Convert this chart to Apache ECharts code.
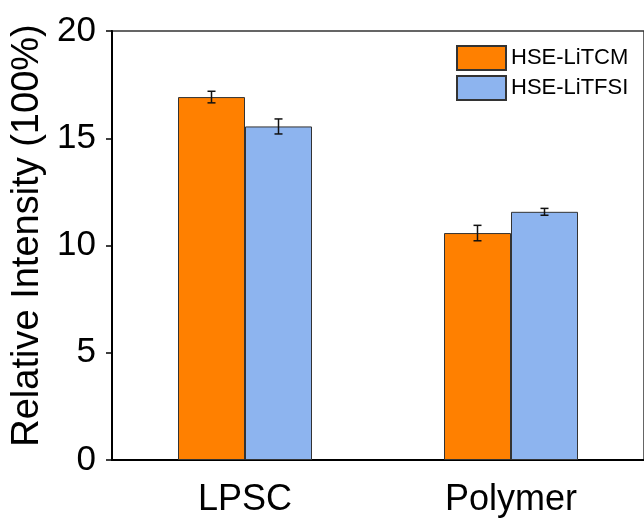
<!DOCTYPE html>
<html>
<head>
<meta charset="utf-8">
<title>Relative Intensity</title>
<script src="https://cdn.jsdelivr.net/npm/echarts@6/dist/echarts.min.js"></script>
<style>
body{margin:0;padding:0;background:#fff;}
#main{width:644px;height:520px;}
</style>
</head>
<body>
<div id="main"></div>
<script>
var categories = ['LPSC', 'Polymer'];
var seriesNames = ['HSE-LiTCM', 'HSE-LiTFSI'];
var litcm = [16.92, 10.58];
var litcmErr = [0.27, 0.36];
var litfsi = [15.55, 11.57];
var litfsiErr = [0.35, 0.16];
var yTicks = [0, 5, 10, 15, 20];

var colors = ['#ff8000', '#8db4ef'];
var barW = 67;
var font = 'Liberation Sans, Arial, Helvetica, sans-serif';

var myChart = echarts.init(document.getElementById('main'));

function errSeries(vals, errs, side) {
  var pts = [];
  for (var i = 0; i < vals.length; i++) pts.push([i, vals[i], errs[i]]);
  return {
    type: 'custom',
    silent: true,
    z: 10,
    data: pts,
    renderItem: function (params, api) {
      var c = api.value(0), v = api.value(1), e = api.value(2);
      var hi = api.coord([c, v + e]);
      var lo = api.coord([c, v - e]);
      var x = hi[0] + side * barW / 2;
      var cap = 4;
      var st = {stroke: '#111', lineWidth: 1.5};
      return {
        type: 'group',
        children: [
          {type: 'line', shape: {x1: x, y1: hi[1], x2: x, y2: lo[1]}, style: st},
          {type: 'line', shape: {x1: x - cap, y1: hi[1], x2: x + cap, y2: hi[1]}, style: st},
          {type: 'line', shape: {x1: x - cap, y1: lo[1], x2: x + cap, y2: lo[1]}, style: st}
        ]
      };
    }
  };
}

var option = {
  animation: false,
  textStyle: {fontFamily: font, color: '#000'},
  grid: {
    left: 112, top: 31, bottom: 60, width: 537,
    show: true, borderColor: '#333', borderWidth: 1.5
  },
  legend: {
    orient: 'vertical',
    left: 451, top: 40,
    itemWidth: 49, itemHeight: 24, itemGap: 4,
    icon: 'rect',
    data: seriesNames,
    textStyle: {fontSize: 22, color: '#000', fontFamily: font}
  },
  xAxis: {
    type: 'category',
    data: categories,
    axisLine: {lineStyle: {color: '#000', width: 2}},
    axisTick: {alignWithLabel: true, length: 6, lineStyle: {color: '#000', width: 1.5}},
    axisLabel: {fontSize: 36, color: '#000', margin: 22, fontFamily: font}
  },
  yAxis: {
    type: 'value',
    min: yTicks[0],
    max: yTicks[yTicks.length - 1],
    interval: 5,
    name: 'Relative Intensity (100%)',
    nameLocation: 'middle',
    nameGap: 63,
    nameTextStyle: {fontSize: 38, color: '#000', fontFamily: font, padding: [0, 0, 0, 20]},
    splitLine: {show: false},
    axisLine: {show: true, lineStyle: {color: '#000', width: 2}},
    axisTick: {show: true, length: 6, lineStyle: {color: '#000', width: 1.5}},
    axisLabel: {fontSize: 35, color: '#000', margin: 16, fontFamily: font}
  },
  series: [
    {
      name: seriesNames[0],
      type: 'bar',
      barWidth: barW,
      barGap: '0%',
      data: litcm,
      itemStyle: {color: colors[0], borderColor: '#333', borderWidth: 1}
    },
    {
      name: seriesNames[1],
      type: 'bar',
      barWidth: barW,
      barGap: '0%',
      data: litfsi,
      itemStyle: {color: colors[1], borderColor: '#333', borderWidth: 1}
    },
    errSeries(litcm, litcmErr, -1),
    errSeries(litfsi, litfsiErr, 1)
  ]
};
myChart.setOption(option);
</script>
</body>
</html>
